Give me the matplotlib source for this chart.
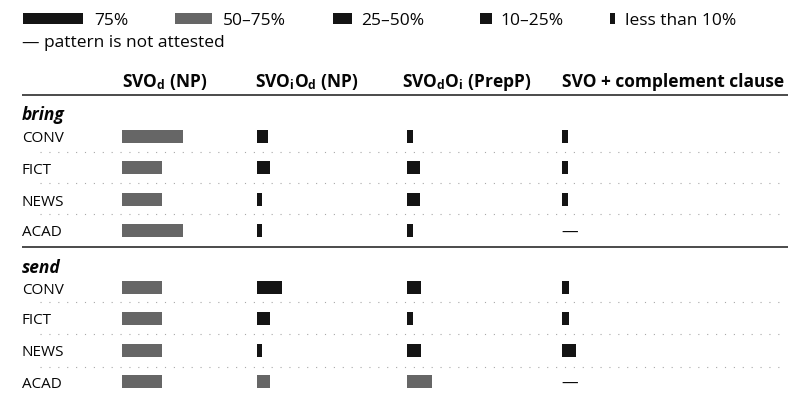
import matplotlib
matplotlib.use("Agg")
import matplotlib.pyplot as plt

plt.rcParams["font.family"] = ["Open Sans", "DejaVu Sans"]
plt.rcParams["mathtext.fontset"] = "custom"
plt.rcParams["mathtext.rm"] = "Open Sans"
plt.rcParams["mathtext.bf"] = "Open Sans:bold"
plt.rcParams["mathtext.it"] = "Open Sans:italic"

# --- data --------------------------------------------------------------
legend_labels = ["75%", "50–75%", "25–50%", "10–25%", "less than 10%"]
legend_lengths = [60, 37, 19, 12, 5]
legend_tones = ["k", "g", "k", "k", "k"]

patterns = [
    r"SVO$_\mathbf{d}$ (NP)",
    r"SVO$_\mathbf{i}$O$_\mathbf{d}$ (NP)",
    r"SVO$_\mathbf{d}$O$_\mathbf{i}$ (PrepP)",
    "SVO + complement clause",
]
registers = ["CONV", "FICT", "NEWS", "ACAD"]
verbs = ["bring", "send"]

# bar lengths per pattern (rows = patterns, cols = registers); None = not attested
bring_bars = [
    [61, 40, 40, 61],
    [11, 13, 5, 5],
    [6, 13, 13, 6],
    [6, 6, 6, None],
]
send_bars = [
    [40, 40, 40, 40],
    [25, 13, 5, 13],
    [14, 6, 14, 25],
    [7, 7, 14, None],
]
bring_tones = [
    ["g", "g", "g", "g"],
    ["k", "k", "k", "k"],
    ["k", "k", "k", "k"],
    ["k", "k", "k", "k"],
]
send_tones = [
    ["g", "g", "g", "g"],
    ["k", "k", "k", "g"],
    ["k", "k", "k", "g"],
    ["k", "k", "k", "k"],
]

# --- layout (pixel coordinates) -----------------------------------------
TONE = {"k": "#141414", "g": "#666666"}
INK = "#050505"
legend_x = [23, 175, 333, 480, 610]
legend_text_x = [94, 223, 361, 500, 625]
col_x = [122, 257, 407, 562]
header_x = [122, 255, 402, 562]
verb_y = [115, 268]
row_y = [[136, 167, 199, 230], [287, 318, 350, 381]]
dot_y = [[152, 183, 214], [302, 334, 367]]
rule_y = [95, 247]

fig = plt.figure(figsize=(8.04, 3.99), dpi=100)
ax = fig.add_axes([0, 0, 1, 1])
ax.set_xlim(0, 804)
ax.set_ylim(399, 0)
ax.axis("off")

# legend
for x, tx, w, t, lab in zip(legend_x, legend_text_x, legend_lengths,
                           legend_tones, legend_labels):
    ax.barh(18, w, left=x, height=11, color=TONE[t], edgecolor="none")
    ax.text(tx, 25, lab, fontsize=12.5, va="baseline", ha="left", color=INK)
ax.text(22, 47, "— pattern is not attested", fontsize=12.5,
        va="baseline", ha="left", color=INK)

# headers
for x, lab in zip(header_x, patterns):
    ax.text(x, 87, lab, fontsize=12.5, fontweight="bold", va="baseline",
            ha="left", color=INK)
for y in rule_y:
    ax.plot([22, 788], [y, y], color="#1a1a1a", lw=1.1, solid_capstyle="butt")

# body
for vi, (verb, bars, tones) in enumerate(zip(verbs, [bring_bars, send_bars],
                                           [bring_tones, send_tones])):
    ax.text(22, verb_y[vi] + 5, verb, fontsize=12.5, fontweight="bold",
            style="italic", va="baseline", ha="left", color=INK)
    for ri, reg in enumerate(registers):
        y = row_y[vi][ri]
        ax.text(22, y + 6.5, reg, fontsize=11, va="baseline", ha="left",
                color=INK)
        for ci in range(len(patterns)):
            w = bars[ci][ri]
            if w is None:
                ax.text(col_x[ci] - 1, y + 7, "—", fontsize=12, va="baseline",
                        ha="left", color=INK)
            else:
                ax.barh(y, w, left=col_x[ci], height=13,
                        color=TONE[tones[ci][ri]], edgecolor="none")
    for y in dot_y[vi]:
        ax.plot([40, 785], [y, y], color="#a8a8a8", lw=0.8,
                linestyle=(0, (1, 7)))

fig.savefig("out.png", dpi=100)
